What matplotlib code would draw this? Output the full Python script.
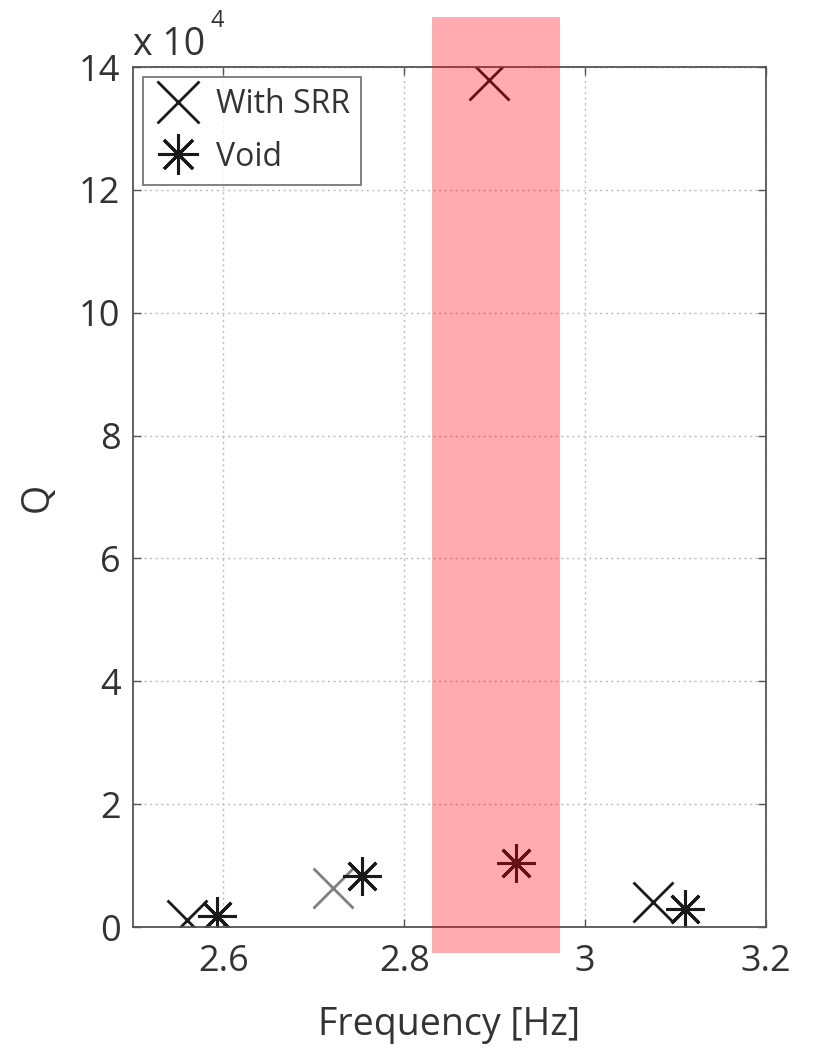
import matplotlib
matplotlib.use("Agg")
import matplotlib.pyplot as plt
from matplotlib.patches import Rectangle
from matplotlib.ticker import FuncFormatter

plt.rcParams["font.family"] = ["Open Sans", "DejaVu Sans"]

# resonance frequency [Hz] and quality factor Q
freq_srr = [2.56, 2.721, 2.894, 3.075]
q_srr = [1100, 6300, 137900, 4100]
freq_void = [2.593, 2.753, 2.924, 3.111]
q_void = [1800, 8300, 10400, 2900]

x_ticks = [2.6, 2.8, 3.0, 3.2]
y_ticks = [0, 20000, 40000, 60000, 80000, 100000, 120000, 140000]

INK = "#1A1A1A"
TXT = "#333333"
SPINE = "#555555"
ASTERISK = (8, 2, 0)

fig = plt.figure(figsize=(8.18, 10.49), dpi=100)
ax = fig.add_axes([0.1626, 0.1163, 0.7738, 0.8198])

# grey cross for the second SRR point, black elsewhere
srr_colors = [INK, "#808080", INK, INK]
for i, (f, q) in enumerate(zip(freq_srr, q_srr)):
    ax.plot(f, q, linestyle="none", marker="x", markersize=29, markeredgewidth=2.0,
            color=srr_colors[i], label="With SRR" if i == 0 else None)
ax.plot(freq_void, q_void, linestyle="none", marker=ASTERISK, markersize=28,
        markeredgewidth=2.2, color=INK, label="Void")

ax.set_xlim(2.5, 3.2)
ax.set_ylim(0, 140000)
ax.set_xticks(x_ticks)
ax.set_yticks(y_ticks)
ax.xaxis.set_major_formatter(FuncFormatter(lambda v, p: f"{v:g}"))
ax.yaxis.set_major_formatter(FuncFormatter(lambda v, p: f"{v / 1e4:g}"))
ax.tick_params(direction="in", length=6, width=1, colors=SPINE, labelcolor=TXT,
               labelsize=26, top=True, right=True)
ax.tick_params(axis="x", pad=12)
ax.tick_params(axis="y", pad=9)
for sp in ax.spines.values():
    sp.set_color(SPINE)
    sp.set_linewidth(1.3)
ax.grid(True, linestyle=(0, (1.5, 2.5)), color="#BBBBBB", linewidth=1.0)

ax.set_xlabel("Frequency [Hz]", fontsize=27, color=TXT, labelpad=19)
ax.set_ylabel("Q", fontsize=27, color=TXT, labelpad=16)
ax.text(0.0, 1.003, "x 10", transform=ax.transAxes, fontsize=27, color=TXT,
        ha="left", va="bottom")
ax.text(0.123, 1.04, "4", transform=ax.transAxes, fontsize=17, color=TXT,
        ha="left", va="bottom")

leg = ax.legend(loc="upper left", fontsize=23, frameon=True, fancybox=False,
                borderpad=0.35, handletextpad=0.45, labelspacing=0.62, markerscale=1.05,
                handlelength=1.5, bbox_to_anchor=(0.0, 1.0), borderaxespad=0.3)
leg.get_frame().set_edgecolor(SPINE)
leg.get_frame().set_linewidth(1.3)
for t in leg.get_texts():
    t.set_color(TXT)
for h in leg.legend_handles:
    h.set_color(INK)

# translucent highlight band around the peak
fig.patches.append(Rectangle((0.528, 0.0915), 0.157, 0.8923, transform=fig.transFigure,
                             facecolor="#FF0010", alpha=0.33, edgecolor="none", zorder=10))

fig.savefig("out.png", dpi=100)
